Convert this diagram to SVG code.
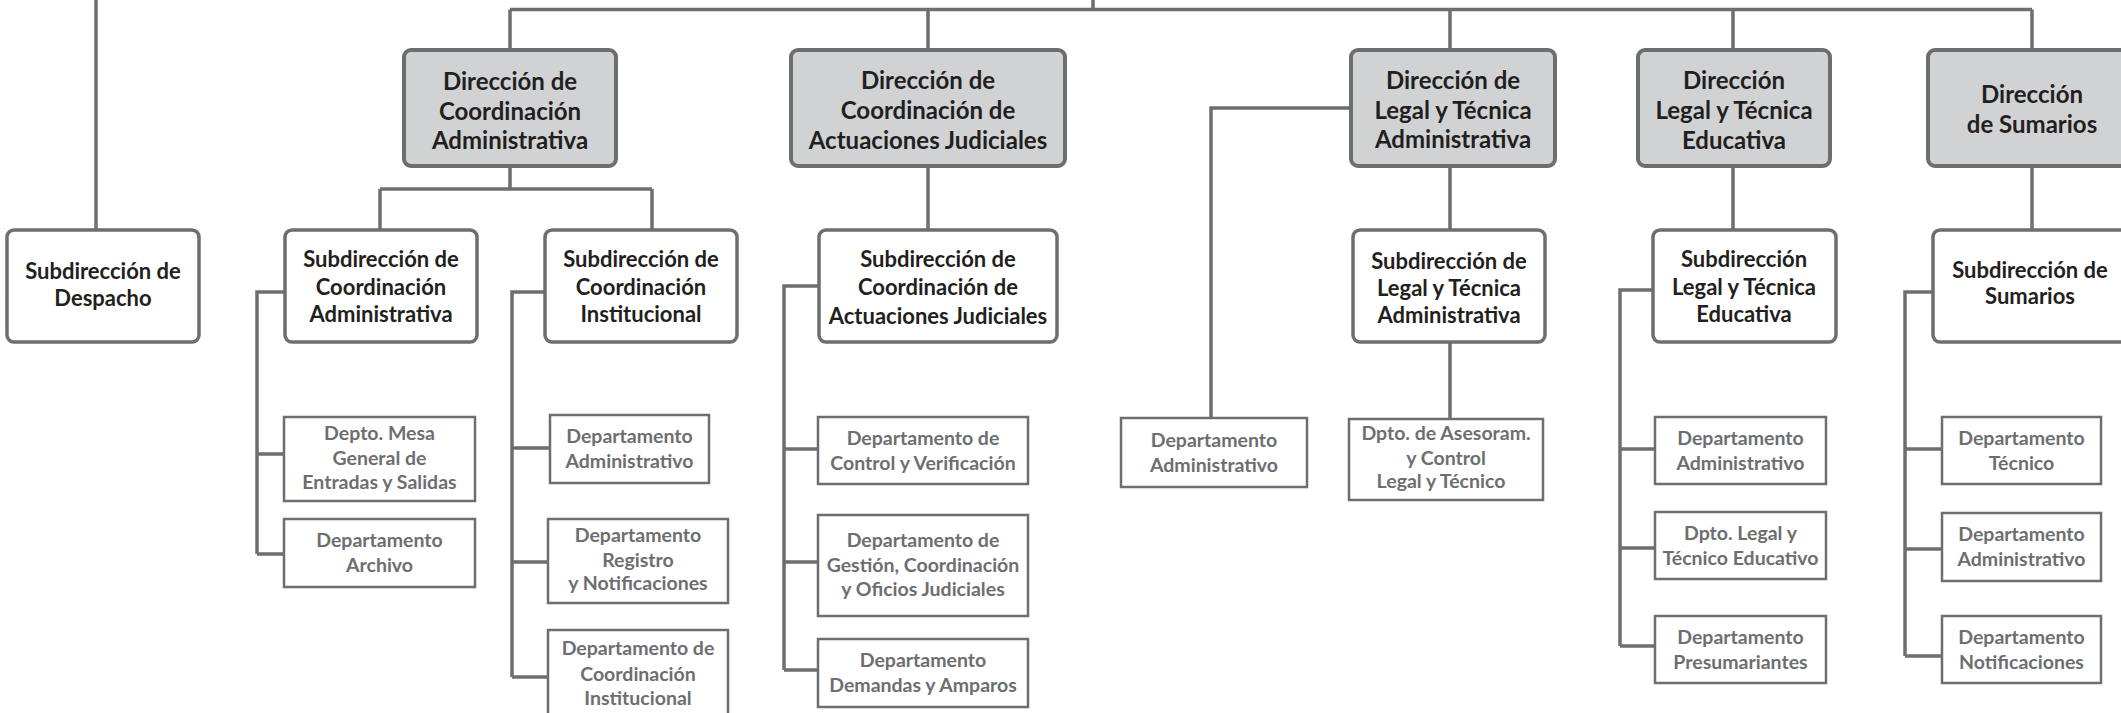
<svg xmlns="http://www.w3.org/2000/svg" width="2121" height="713" viewBox="0 0 2121 713">
<style>
.dir{fill:#d1d2d4;stroke:#6d6e71;stroke-width:4}
.sub{fill:#ffffff;stroke:#6d6e71;stroke-width:3.5}
.dep{fill:#ffffff;stroke:#6d6e71;stroke-width:2.5}
.ln{fill:none;stroke:#6d6e71;stroke-width:3.5}
text{font-family:Lato,"Liberation Sans",sans-serif;font-weight:bold;text-anchor:middle}
.td{font-size:24px;fill:#231f20}
.ts{font-size:22px;fill:#231f20}
.tp{font-size:19.5px;fill:#6d6e71}
</style>
<rect width="2121" height="713" fill="#ffffff"/>
<g id="connectors" class="ln">
<path d="M1093,0V9.5M510,9.5H2032M510,9.5V50M928,9.5V50M1450,9.5V50M1733,9.5V50M2032,9.5V50"/>
<path d="M96,0V230"/>
<path d="M510,166V189M380,189H652M380,189V230M652,189V230"/>
<path d="M285,292H257V554M257,454H284M257,554H284"/>
<path d="M545,292H512V677M512,448H550M512,562H548M512,677H548"/>
<path d="M928,166V230"/>
<path d="M819,286H784V670M784,449H818M784,562H818M784,670H818"/>
<path d="M1351,108H1211V418M1450,166V230M1450,342V419"/>
<path d="M1733,166V230M1653,290H1620V646M1620,449H1655M1620,548H1655M1620,646H1655"/>
<path d="M2032,166V230M1933,292H1905V656M1905,449H1942M1905,549H1942M1905,656H1942"/>
</g>
<g id="dir-coord-admin"><rect class="dir" x="404" y="50" width="212" height="116" rx="7"/>
<text class="td" x="510" y="90">Dirección de</text><text class="td" x="510" y="119.5">Coordinación</text><text class="td" x="510" y="149">Administrativa</text></g>
<g id="dir-coord-jud"><rect class="dir" x="791" y="50" width="274" height="116" rx="7"/>
<text class="td" x="928" y="89">Dirección de</text><text class="td" x="928" y="118.5">Coordinación de</text><text class="td" x="928" y="148.5">Actuaciones Judiciales</text></g>
<g id="dir-legal-admin"><rect class="dir" x="1351" y="50" width="204" height="116" rx="7"/>
<text class="td" x="1453" y="89">Dirección de</text><text class="td" x="1453" y="118.5">Legal y Técnica</text><text class="td" x="1453" y="148">Administrativa</text></g>
<g id="dir-legal-edu"><rect class="dir" x="1638" y="50" width="192" height="116" rx="7"/>
<text class="td" x="1734" y="89">Dirección</text><text class="td" x="1734" y="118.5">Legal y Técnica</text><text class="td" x="1734" y="148.5">Educativa</text></g>
<g id="dir-sumarios"><rect class="dir" x="1928" y="50" width="210" height="116" rx="7"/>
<text class="td" x="2032" y="103">Dirección</text><text class="td" x="2032" y="133">de Sumarios</text></g>
<g id="sub-despacho"><rect class="sub" x="7" y="230" width="192" height="112" rx="7"/>
<text class="ts" x="103" y="279">Subdirección de</text><text class="ts" x="103" y="306">Despacho</text></g>
<g id="sub-coord-admin"><rect class="sub" x="285" y="230" width="192" height="112" rx="7"/>
<text class="ts" x="381" y="267">Subdirección de</text><text class="ts" x="381" y="295">Coordinación</text><text class="ts" x="381" y="322">Administrativa</text></g>
<g id="sub-coord-inst"><rect class="sub" x="545" y="230" width="192" height="112" rx="7"/>
<text class="ts" x="641" y="267">Subdirección de</text><text class="ts" x="641" y="295">Coordinación</text><text class="ts" x="641" y="322">Institucional</text></g>
<g id="sub-coord-jud"><rect class="sub" x="819" y="230" width="238" height="112" rx="7"/>
<text class="ts" x="938" y="267">Subdirección de</text><text class="ts" x="938" y="295">Coordinación de</text><text class="ts" x="938" y="324">Actuaciones Judiciales</text></g>
<g id="sub-legal-admin"><rect class="sub" x="1353" y="230" width="192" height="112" rx="7"/>
<text class="ts" x="1449" y="269">Subdirección de</text><text class="ts" x="1449" y="296">Legal y Técnica</text><text class="ts" x="1449" y="322.5">Administrativa</text></g>
<g id="sub-legal-edu"><rect class="sub" x="1653" y="230" width="183" height="112" rx="7"/>
<text class="ts" x="1744" y="267">Subdirección</text><text class="ts" x="1744" y="295">Legal y Técnica</text><text class="ts" x="1744" y="322">Educativa</text></g>
<g id="sub-sumarios"><rect class="sub" x="1933" y="230" width="210" height="112" rx="7"/>
<text class="ts" x="2030" y="278">Subdirección de</text><text class="ts" x="2030" y="304">Sumarios</text></g>
<g id="dep-mesa"><rect class="dep" x="284" y="417" width="191" height="84"/>
<text class="tp" x="379.5" y="440">Depto. Mesa</text><text class="tp" x="379.5" y="465">General de</text><text class="tp" x="379.5" y="489">Entradas y Salidas</text></g>
<g id="dep-archivo"><rect class="dep" x="284" y="519" width="191" height="68"/>
<text class="tp" x="379.5" y="547">Departamento</text><text class="tp" x="379.5" y="572">Archivo</text></g>
<g id="dep-admin-inst"><rect class="dep" x="550" y="415" width="159" height="68"/>
<text class="tp" x="629.5" y="443">Departamento</text><text class="tp" x="629.5" y="468">Administrativo</text></g>
<g id="dep-registro"><rect class="dep" x="548" y="519" width="180" height="84"/>
<text class="tp" x="638" y="542">Departamento</text><text class="tp" x="638" y="567">Registro</text><text class="tp" x="638" y="590">y Notificaciones</text></g>
<g id="dep-coord-inst"><rect class="dep" x="548" y="630" width="180" height="88"/>
<text class="tp" x="638" y="655">Departamento de</text><text class="tp" x="638" y="680.5">Coordinación</text><text class="tp" x="638" y="705">Institucional</text></g>
<g id="dep-control"><rect class="dep" x="818" y="417" width="210" height="67"/>
<text class="tp" x="923" y="445">Departamento de</text><text class="tp" x="923" y="470">Control y Verificación</text></g>
<g id="dep-gestion"><rect class="dep" x="818" y="515" width="210" height="101"/>
<text class="tp" x="923" y="546.5">Departamento de</text><text class="tp" x="923" y="572">Gestión, Coordinación</text><text class="tp" x="923" y="596">y Oficios Judiciales</text></g>
<g id="dep-demandas"><rect class="dep" x="818" y="639" width="210" height="68"/>
<text class="tp" x="923" y="667">Departamento</text><text class="tp" x="923" y="692">Demandas y Amparos</text></g>
<g id="dep-admin-legal"><rect class="dep" x="1121" y="418" width="186" height="69"/>
<text class="tp" x="1214" y="447">Departamento</text><text class="tp" x="1214" y="472">Administrativo</text></g>
<g id="dep-asesoram"><rect class="dep" x="1349" y="419" width="194" height="81"/>
<text class="tp" x="1446" y="440">Dpto. de Asesoram.</text><text class="tp" x="1446" y="465">y Control</text><text class="tp" x="1441" y="488">Legal y Técnico</text></g>
<g id="dep-admin-edu"><rect class="dep" x="1655" y="417" width="171" height="67"/>
<text class="tp" x="1740.5" y="445">Departamento</text><text class="tp" x="1740.5" y="470">Administrativo</text></g>
<g id="dep-legal-edu"><rect class="dep" x="1655" y="512" width="171" height="67"/>
<text class="tp" x="1740.5" y="540">Dpto. Legal y</text><text class="tp" x="1740.5" y="565">Técnico Educativo</text></g>
<g id="dep-presum"><rect class="dep" x="1655" y="616" width="171" height="67"/>
<text class="tp" x="1740.5" y="644">Departamento</text><text class="tp" x="1740.5" y="669">Presumariantes</text></g>
<g id="dep-tecnico"><rect class="dep" x="1942" y="417" width="159" height="67"/>
<text class="tp" x="2021.5" y="445">Departamento</text><text class="tp" x="2021.5" y="470">Técnico</text></g>
<g id="dep-admin-sum"><rect class="dep" x="1942" y="513" width="159" height="68"/>
<text class="tp" x="2021.5" y="541">Departamento</text><text class="tp" x="2021.5" y="566">Administrativo</text></g>
<g id="dep-notif"><rect class="dep" x="1942" y="616" width="159" height="67"/>
<text class="tp" x="2021.5" y="644">Departamento</text><text class="tp" x="2021.5" y="669">Notificaciones</text></g>
</svg>
